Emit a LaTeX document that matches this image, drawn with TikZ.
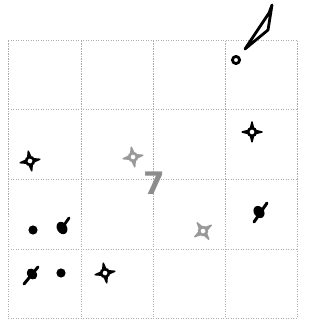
\documentclass[tikz,border=0pt]{standalone}
\usepackage{fontspec}
\setsansfont{DejaVu Sans}
\begin{document}
\begin{tikzpicture}[x=1pt,y=-1pt,
  gridline/.style={draw=black!32,line width=1pt,dash pattern=on 1.3pt off 1.2pt},
  ink/.style={line width=2.8pt,line cap=round,line join=round},
  pics/crossring/.style={code={
    \foreach \a in {0,90,180,270}{\fill[#1,rotate=\a] (4,-2.3) -- (10.5,-0.6) -- (10.5,0.6) -- (4,2.3) -- cycle;}
    \draw[#1,line width=2.6pt] (0,0) circle (3.9);
  }}]
\useasboundingbox (0,0) rectangle (328,328);
% grid
\foreach \x in {8,81,153,225,297}{\draw[gridline] (\x,41) -- (\x,318);}
\foreach \y in {41,110,180,249,318}{\draw[gridline] (8,\y) -- (297,\y);}
% label
\node[text=black!45,font=\sffamily\bfseries\fontsize{31}{31}\selectfont] (seven) at (154,183) {7};
% pen shape and ring
\draw[ink] (245,49) -- (269,13) -- (272,5) -- (268,30) -- cycle;
\draw[ink,line width=2.8pt] (236,60) circle (3.6);
% cross rings
\pic[rotate=10] at (30,161) {crossring=black};
\pic[rotate=10] at (133,157) {crossring=black!40};
\pic[rotate=0] at (252,132) {crossring=black};
\pic[rotate=10] at (105,273) {crossring=black};
\pic[rotate=35] at (203,231) {crossring=black!40};
% dots
\fill (33,230) circle (4.6);
\fill (61,273) circle (4.6);
% blobs with strokes
\fill[rotate around={-60:(62,228)}] (62,228) ellipse (6.5 and 5);
\draw[ink] (62,228) -- (69,218);
\draw[ink,line width=3pt] (24,284) -- (38,267);
\fill[rotate around={-50:(32,274)}] (32,274) ellipse (6 and 4.5);
\draw[ink,line width=3pt] (254,222) -- (267,203);
\fill[rotate around={-55:(259,212)}] (259,212) ellipse (6.5 and 5);
\end{tikzpicture}
\end{document}
